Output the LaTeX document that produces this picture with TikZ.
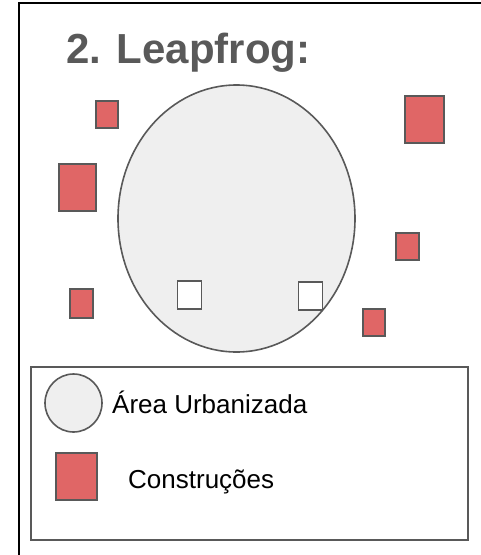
\documentclass[tikz,border=0pt]{standalone}
\usepackage{fontspec}
\setmainfont{Liberation Sans}
\usetikzlibrary{shapes.geometric}
\definecolor{frameg}{HTML}{595959}
\definecolor{redfill}{HTML}{E06666}
\definecolor{areafill}{HTML}{EFEFEF}
\begin{document}
\begin{tikzpicture}[x=1pt,y=-1pt,
  redsq/.style={draw=frameg,fill=redfill,line width=2pt,rectangle,inner sep=0pt},
  whitesq/.style={draw=frameg,fill=white,line width=1.6pt,rectangle,inner sep=0pt},
  area/.style={draw=frameg,fill=areafill,line width=1.6pt,ellipse,inner sep=0pt},
  lbl/.style={font=\fontsize{26}{30}\selectfont,text=black,inner sep=0pt,anchor=base west}]
\useasboundingbox (0,0) rectangle (481,555);
% outer frame (only top and left visible)
\draw[line width=2pt,black] (19,556) -- (19,3) -- (482,3);
% title
\node[font=\fontsize{42}{48}\bfseries,text=frameg,inner sep=0pt,anchor=base west] (title) at (66,63) {2. Leapfrog:};
% urban area
\node[area,minimum width=237pt,minimum height=267pt] (urb) at (236.5,218.5) {};
% white squares inside
\node[whitesq,minimum width=24pt,minimum height=28pt] (w1) at (189.5,295) {};
\node[whitesq,minimum width=24pt,minimum height=28pt] (w2) at (310.5,296) {};
% red squares
\node[redsq,minimum width=22pt,minimum height=27pt] (r1) at (107,114) {};
\node[redsq,minimum width=37pt,minimum height=47pt] (r2) at (77,187) {};
\node[redsq,minimum width=23pt,minimum height=29pt] (r3) at (81,303) {};
\node[redsq,minimum width=39pt,minimum height=47pt] (r4) at (424,119) {};
\node[redsq,minimum width=23pt,minimum height=27pt] (r5) at (407,246) {};
\node[redsq,minimum width=22pt,minimum height=27pt] (r6) at (374,322) {};
% legend
\node[draw=frameg,line width=1.6pt,rectangle,inner sep=0pt,minimum width=437pt,minimum height=173pt] (legend) at (249.5,453.5) {};
\node[area,minimum width=57pt,minimum height=58pt] (lcirc) at (73.5,403) {};
\node[lbl] (ltxt1) at (112,413) {Área Urbanizada};
\node[redsq,minimum width=41pt,minimum height=47pt] (lsq) at (76,476) {};
\node[lbl] (ltxt2) at (128,488) {Construções};
\end{tikzpicture}
\end{document}
